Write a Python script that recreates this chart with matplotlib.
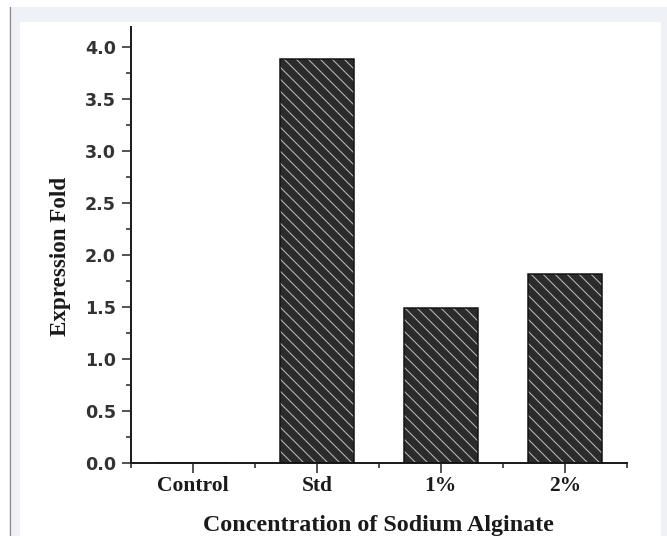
import numpy as np
import matplotlib
matplotlib.use("Agg")
import matplotlib.pyplot as plt
from matplotlib.patches import Rectangle
from matplotlib.lines import Line2D
from matplotlib.collections import LineCollection
from matplotlib.transforms import IdentityTransform

# Data
categories = ["Control", "Std", "1%", "2%"]
expression_fold = [0.0, 3.89, 1.49, 1.82]
y_ticks = [0.0, 0.5, 1.0, 1.5, 2.0, 2.5, 3.0, 3.5, 4.0]
y_tick_labels = ["0.0", "0.5", "1.0", "1.5", "2.0", "2.5", "3.0", "3.5", "4.0"]
x_label = "Concentration of Sodium Alginate"
y_label = "Expression Fold"

W, H, DPI = 667, 536, 72
fig = plt.figure(figsize=(W / DPI, H / DPI), dpi=DPI, facecolor="white")

# Page backdrop: light frame, white panel, thin grey rule on the left
fig.patches.append(Rectangle((9 / W, 0), 1 - 9 / W, 1 - 7 / H, transform=fig.transFigure,
                             facecolor="#f0f1f6", edgecolor="none", zorder=-3))
fig.patches.append(Rectangle((20 / W, 0), (661 - 20) / W, (H - 22) / H, transform=fig.transFigure,
                             facecolor="white", edgecolor="none", zorder=-2))
fig.add_artist(Line2D([9.5 / W, 9.5 / W], [0, 1 - 7 / H], transform=fig.transFigure,
                      color="#8a8a8a", lw=1.2))

ax = fig.add_axes([131 / W, 73.3 / H, (626.7 - 131) / W, 436 / H])
ax.set_facecolor("none")
ax.set_xlim(-0.5, 3.5)
ax.set_ylim(0, 4.2)

x = np.arange(len(categories))
# dark fill
fills = ax.bar(x, expression_fold, width=0.6, color="#2b2b2b", linewidth=0, zorder=2)
# black outline
ax.bar(x, expression_fold, width=0.6, facecolor="none", edgecolor="#111111",
       linewidth=1.5, zorder=3)

# Light diagonal hatching, 12 px apart, clipped to each bar
HATCH_STEP = 12.0
for rect in fills:
    if rect.get_height() <= 0:
        continue
    (px0, py0) = ax.transData.transform((rect.get_x(), rect.get_y()))
    (px1, py1) = ax.transData.transform((rect.get_x() + rect.get_width(),
                                         rect.get_y() + rect.get_height()))
    segs = []
    for c in np.arange(px0 + py0, px1 + py1 + HATCH_STEP, HATCH_STEP):
        segs.append([(c - py1, py1), (c - py0, py0)])
    lc = LineCollection(segs, colors="#b3b3b3", linewidths=1.1,
                        transform=IdentityTransform(), zorder=2.5)
    ax.add_collection(lc, autolim=False)
    lc.set_clip_path(rect)

for s in ("top", "right"):
    ax.spines[s].set_visible(False)
for s in ("left", "bottom"):
    ax.spines[s].set_linewidth(2)
    ax.spines[s].set_color("#1e1e1e")

ax.set_xticks(x)
ax.set_xticks([-0.5, 0.5, 1.5, 2.5, 3.5], minor=True)
ax.set_xticklabels(categories, fontfamily="Liberation Serif", fontweight="bold",
                   fontsize=21.5, color="#1a1a1a")
ax.set_yticks(y_ticks)
ax.set_yticks(np.arange(0.25, 4.2, 0.5), minor=True)
ax.set_yticklabels(y_tick_labels, fontfamily="DejaVu Sans", fontweight="bold",
                   fontsize=17.5, color="#333333")

ax.tick_params(axis="x", which="major", direction="out", length=10, width=1.5,
               color="#1e1e1e", pad=3)
ax.tick_params(axis="x", which="minor", direction="out", length=5, width=1.5,
               color="#1e1e1e")
ax.tick_params(axis="y", which="major", direction="out", length=9, width=1.5,
               color="#1e1e1e", pad=6)
ax.tick_params(axis="y", which="minor", direction="out", length=5, width=1.5,
               color="#1e1e1e")

ax.set_xlabel(x_label, fontfamily="Liberation Serif", fontweight="bold",
              fontsize=24, color="#1a1a1a")
ax.xaxis.set_label_coords(0.5, -0.121)
ax.set_ylabel(y_label, fontfamily="Liberation Serif", fontweight="bold",
              fontsize=23, color="#1a1a1a")
ax.yaxis.set_label_coords(-0.121, 0.473)

fig.savefig("out.png", dpi=DPI, facecolor=fig.get_facecolor())
